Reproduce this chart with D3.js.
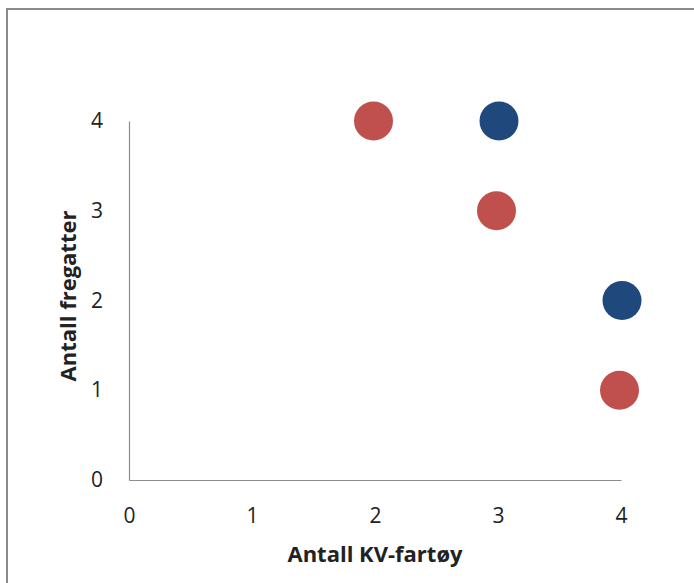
<!DOCTYPE html>
<html>
<head>
<meta charset="utf-8">
<script src="https://cdn.jsdelivr.net/npm/d3@7/dist/d3.min.js"></script>
<style>
  body { margin: 0; background: #fff; }
  svg { display: block; }
  text { font-family: "Open Sans", "Noto Sans", sans-serif; fill: #222; }
</style>
</head>
<body>
<div class="graph"></div>
<script>
// data
var seriesA = [ // red
    {x: 2, y: 4},
    {x: 3, y: 3},
    {x: 4, y: 1}
]
var seriesB = [ // blue
    {x: 3, y: 4},
    {x: 4, y: 2}
]
var xTicks = [0, 1, 2, 3, 4]
var yTicks = [0, 1, 2, 3, 4]
var xTitle = 'Antall KV-fartøy'
var yTitle = 'Antall fregatter'

var width = 694,
    height = 583

var x = d3.scaleLinear()
    .domain([0, 4])
    .range([129, 621])

var y = d3.scaleLinear()
    .domain([0, 4])
    .range([480, 121])

var svg = d3.select('.graph').append('svg')
    .attr('width', width)
    .attr('height', height)

// chart frame
svg.append('rect')
    .attr('x', 7)
    .attr('y', 9)
    .attr('width', 700)
    .attr('height', 600)
    .attr('fill', 'none')
    .attr('stroke', '#8a8a8a')
    .attr('stroke-width', 2)

var xAxis = svg.append('g')
    .attr('transform', `translate(0,${y(0)})`)
    .call(d3.axisBottom(x).tickValues(xTicks).tickSize(0).tickPadding(28).tickFormat(d3.format('d')))

var yAxis = svg.append('g')
    .attr('transform', `translate(${x(0)},0)`)
    .call(d3.axisLeft(y).tickValues(yTicks).tickSize(0).tickPadding(26).tickFormat(d3.format('d')))

for (let g of [xAxis, yAxis]) {
    g.select('.domain').attr('stroke', '#8c8c8c').attr('stroke-width', 1.2)
    g.selectAll('text')
	.style('font-family', '"Open Sans", sans-serif')
	.style('font-size', '21px')
	.attr('fill', '#222')
}

svg.append('text')
    .attr('x', 375)
    .attr('y', 562)
    .attr('text-anchor', 'middle')
    .style('font-size', '22px')
    .style('font-weight', 'bold')
    .text(xTitle)

svg.append('text')
    .attr('transform', 'translate(76,296) rotate(-90)')
    .attr('text-anchor', 'middle')
    .style('font-size', '22px')
    .style('font-weight', 'bold')
    .text(yTitle)

var dots = svg.append('g')

dots.selectAll('circle.a')
    .data(seriesA)
    .join('circle')
    .attr('class', 'a')
    .attr('cx', d => x(d.x) - 1.5)
    .attr('cy', d => y(d.y))
    .attr('r', 19.5)
    .attr('fill', '#c0504d')

dots.selectAll('circle.b')
    .data(seriesB)
    .join('circle')
    .attr('class', 'b')
    .attr('cx', d => x(d.x) + 1)
    .attr('cy', d => y(d.y))
    .attr('r', 19.5)
    .attr('fill', '#1f497d')
</script>
</body>
</html>
